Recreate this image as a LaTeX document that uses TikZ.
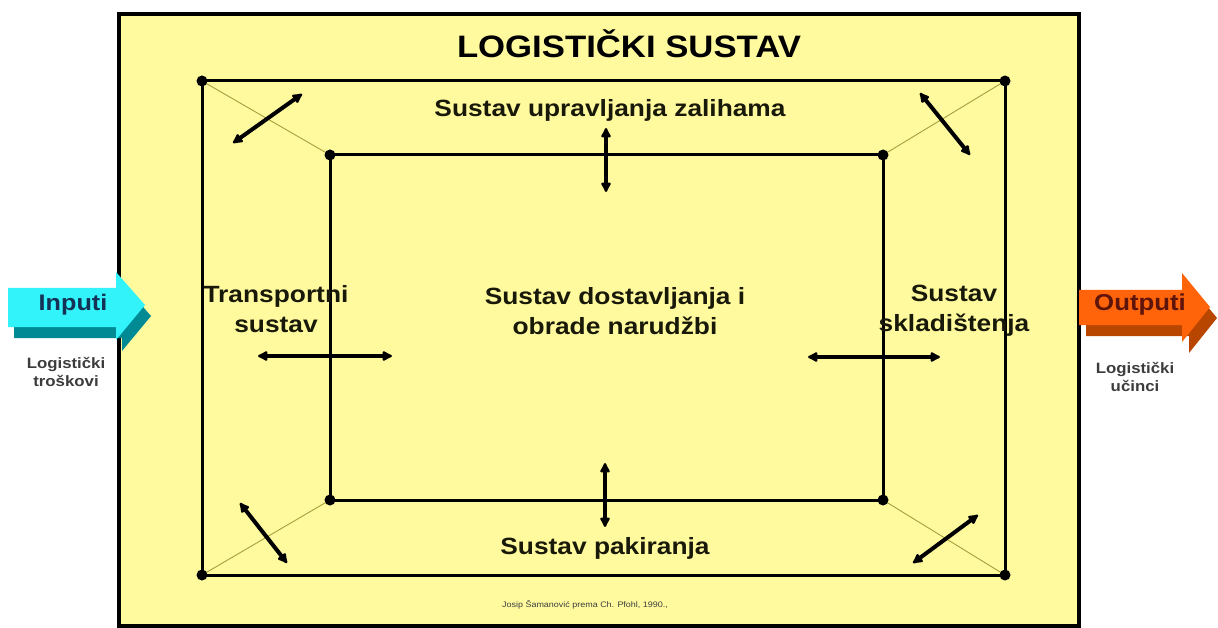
\documentclass[tikz,border=0pt]{standalone}
\usepackage{fontspec}
\setmainfont{Liberation Sans}[FakeStretch=1.12]
\usetikzlibrary{arrows.meta}

\definecolor{boxyellow}{RGB}{255,250,158}
\definecolor{spokeolive}{RGB}{165,160,60}
\definecolor{subtext}{RGB}{25,25,10}
\definecolor{incyan}{RGB}{50,242,250}
\definecolor{inteal}{RGB}{0,138,148}
\definecolor{intext}{RGB}{20,50,85}
\definecolor{outorange}{RGB}{255,100,10}
\definecolor{outbrown}{RGB}{185,70,0}
\definecolor{outtext}{RGB}{95,20,10}
\definecolor{labelgrey}{RGB}{60,60,60}

\tikzset{
  frame/.style={line width=3pt},
  spoke/.style={line width=0.9pt, draw=spokeolive},
  dbl/.style={line width=4pt, {Latex[length=12pt,width=12pt,round]}-{Latex[length=12pt,width=12pt,round]}},
  sub/.style={font=\bfseries\fontsize{23.5}{30}\selectfont, align=center, text=subtext},
  side/.style={font=\bfseries\fontsize{15}{18}\selectfont, align=center, text=labelgrey},
}

\begin{document}
\begin{tikzpicture}[x=1pt,y=-1pt]
\useasboundingbox (0,0) rectangle (1218,628);

% logisticki sustav
\node (sys) [draw, line width=4pt, fill=boxyellow, minimum width=960pt, minimum height=612pt, anchor=north west] at (117,12) {};
\node (title) at (629,44) [font=\bfseries\fontsize{31}{36}\selectfont] {LOGISTIČKI SUSTAV};

\coordinate (o1) at (202,81);
\coordinate (o2) at (1005,81);
\coordinate (o3) at (1005,575);
\coordinate (o4) at (202,575);
\coordinate (i1) at (330,155);
\coordinate (i2) at (883,155);
\coordinate (i3) at (883,500);
\coordinate (i4) at (330,500);

\foreach \c in {1,...,4} \draw[spoke] (o\c) -- (i\c);
\draw[frame] (o1) -- (o2) -- (o3) -- (o4) -- cycle;
\draw[frame] (i1) -- (i2) -- (i3) -- (i4) -- cycle;
\foreach \c in {o1,o2,o3,o4,i1,i2,i3,i4} \fill (\c) circle (5.5pt);

% podsustavi
\node (zal) at (610,110) [sub] {Sustav upravljanja zalihama};
\node (tra) at (276,309) [sub] {Transportni\\sustav};
\node (dos) at (615,311) [sub] {Sustav dostavljanja i\\obrade narudžbi};
\node (skl) at (954,311) [sub] {Sustav\\skladištenja};
\node (pak) at (605,548) [sub] {Sustav pakiranja};

% veze
\coordinate (a1) at (233,143); \coordinate (b1) at (302,94);
\coordinate (a2) at (920,93);  \coordinate (b2) at (970,155);
\coordinate (a3) at (240,503); \coordinate (b3) at (287,563);
\coordinate (a4) at (913,563); \coordinate (b4) at (978,515);
\coordinate (a5) at (606,128); \coordinate (b5) at (606,192);
\coordinate (a6) at (605,463); \coordinate (b6) at (605,527);
\coordinate (a7) at (258,356); \coordinate (b7) at (392,356);
\coordinate (a8) at (808,357); \coordinate (b8) at (940,357);
\foreach \k in {1,...,8} \draw[dbl] (a\k) -- (b\k);

% inputi
\fill[inteal] (14,299) -- (122,299) -- (122,283) -- (151,316) -- (122,351) -- (122,338) -- (14,338) -- cycle;
\fill[incyan] (8,288) -- (116,288) -- (116,272) -- (145,305) -- (116,340) -- (116,327) -- (8,327) -- cycle;
\node (in) at (73,305) [font=\bfseries\fontsize{22.5}{26}\selectfont, text=intext] {Inputi};
\node (tros) at (66,372) [side] {Logistički\\troškovi};

% outputi
\fill[outbrown] (1086,301) -- (1189,301) -- (1189,284) -- (1217,318) -- (1189,353) -- (1189,336) -- (1086,336) -- cycle;
\fill[outorange] (1079,290) -- (1182,290) -- (1182,273) -- (1210,307) -- (1182,342) -- (1182,325) -- (1079,325) -- cycle;
\node (out) at (1140,305) [font=\bfseries\fontsize{23}{26}\selectfont, text=outtext] {Outputi};
\node (uc) at (1135,377) [side] {Logistički\\učinci};

\node (izvor) at (585,605) [font=\fontsize{8}{9}\selectfont, text=labelgrey] {Josip Šamanović prema Ch. Pfohl, 1990.,};
\end{tikzpicture}
\end{document}
